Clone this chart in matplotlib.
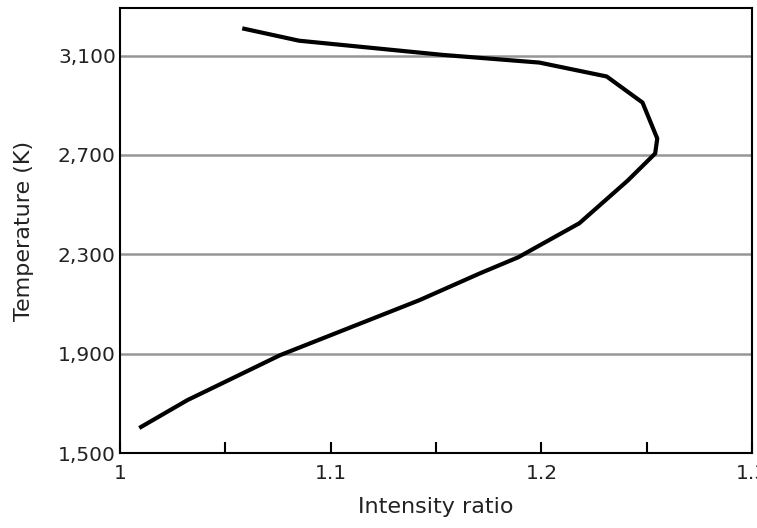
import numpy as np
import matplotlib.pyplot as plt

plt.rcParams['font.family'] = ['DejaVu Sans']

# intensity ratio vs temperature
ratio = [1.010, 1.032, 1.076, 1.142, 1.171, 1.189, 1.218, 1.241, 1.254,
         1.255, 1.248, 1.231, 1.199, 1.153, 1.085, 1.059]
temp = [1605, 1713, 1894, 2115, 2224, 2288, 2425, 2597, 2706,
        2766, 2911, 3016, 3072, 3103, 3160, 3208]

x_ticks = [1.0, 1.05, 1.1, 1.15, 1.2, 1.25, 1.3]
x_labels = ['1', '', '1.1', '', '1.2', '', '1.3']
y_ticks = [1500, 1900, 2300, 2700, 3100]

fig = plt.figure(figsize=(7.57, 5.28), dpi=100)
ax = fig.add_axes([0.1585, 0.142, 0.835, 0.843])

for t in y_ticks[1:]:
    ax.axhline(t, color='#969696', lw=1.8, zorder=1)

ax.plot(ratio, temp, color='black', lw=3, solid_joinstyle='round', zorder=3)

ax.set_xlim(1.0, 1.3)
ax.set_ylim(1500, 3292)
ax.set_xticks(x_ticks)
ax.set_xticklabels(x_labels)
ax.set_yticks(y_ticks)
ax.set_yticklabels([f'{t:,}' for t in y_ticks])
ax.tick_params(axis='x', direction='in', length=8, width=1.5, labelsize=14.5, pad=8,
               colors='black', labelcolor='#222222')
ax.tick_params(axis='y', length=0, labelsize=14.5, pad=3, labelcolor='#222222')
for s in ax.spines.values():
    s.set_linewidth(1.5)

ax.set_xlabel('Intensity ratio', fontsize=16, labelpad=10, color='#222222')
ax.set_ylabel('Temperature (K)', fontsize=16, labelpad=17, color='#222222')

fig.savefig('out.png', dpi=100)
